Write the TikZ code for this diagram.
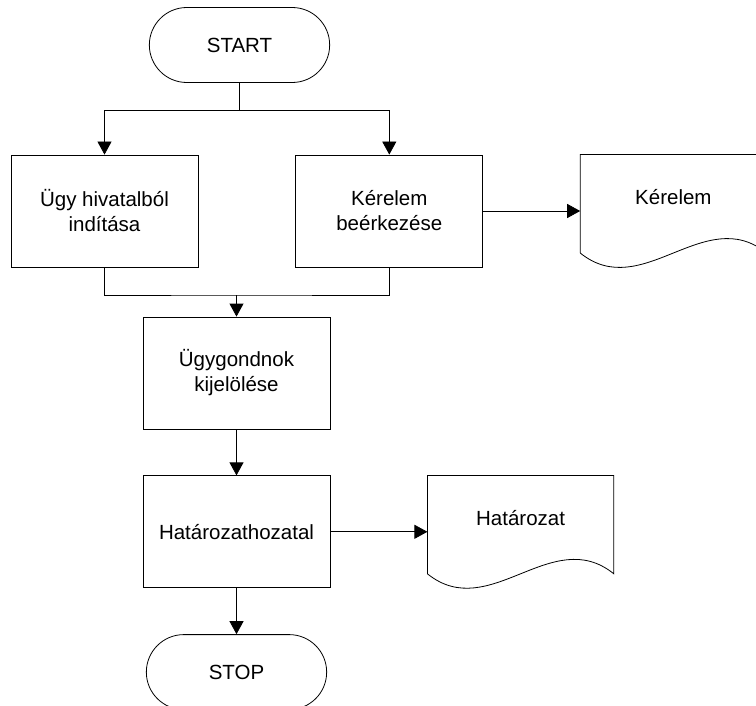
\documentclass[tikz,border=0pt]{standalone}
\usepackage{fontspec}
\setmainfont{Liberation Sans}
\usetikzlibrary{positioning,arrows.meta,shapes.misc}

\tikzset{
  flow/.style={draw, line width=0.8pt, font=\fontsize{20.5}{25}\selectfont, align=center},
  box/.style={flow, rectangle, minimum width=187pt, minimum height=112pt},
  term/.style={flow, rounded rectangle, minimum width=187pt, minimum height=75pt},
  doc/.style={rectangle, font=\fontsize{20.5}{25}\selectfont, minimum width=186pt, minimum height=84pt, inner sep=0pt},
  line/.style={line width=0.8pt},
  arr/.style={line, -{Triangle[width=14pt,length=13pt]}},
}

\begin{document}
\begin{tikzpicture}[x=1pt,y=-1pt]
  \useasboundingbox (0,0) rectangle (756,706);

  \node[term] (start) at (239.5,45) {START};
  \node[box] (ugy) at (104.5,211) {Ügy hivatalból\\indítása};
  \node[box, right=97pt of ugy] (kerelemb) {Kérelem\\beérkezése};
  \node[doc, right=97pt of kerelemb.north east, anchor=north west] (kerelem) {Kérelem};
  \node[box] (ugygondnok) at (236.5,373) {Ügygondnok\\kijelölése};
  \node[box, below=46pt of ugygondnok] (hatozatal) {Határozathozatal};
  \node[doc, right=97pt of hatozatal.north east, anchor=north west] (hatarozat) {Határozat};
  \node[term, below=46pt of hatozatal] (stop) {STOP};

  \coordinate (split) at (239.5,110);
  \coordinate (merge) at (236.5,295);

  \draw[line] (start) -- (split);
  \draw[arr] (split) -| (ugy);
  \draw[arr] (split) -| (kerelemb);
  \draw[line] (ugy) |- (merge) -| (kerelemb);
  \draw[arr] (merge) -- (ugygondnok);
  \draw[arr] (kerelemb) -- (kerelemb -| kerelem.west);
  \draw[arr] (ugygondnok) -- (hatozatal);
  \draw[arr] (hatozatal) -- (hatozatal -| hatarozat.west);
  \draw[arr] (hatozatal) -- (stop);

  % paper outline with wavy bottom edge
  \foreach \dname in {kerelem,hatarozat}
    \draw[line] ([yshift=-14pt]\dname.south west) -- (\dname.north west) -- (\dname.north east)
      -- ([yshift=-14pt]\dname.south east) .. controls +(-62,-50) and +(62,50) .. ([yshift=-14pt]\dname.south west);
\end{tikzpicture}
\end{document}
